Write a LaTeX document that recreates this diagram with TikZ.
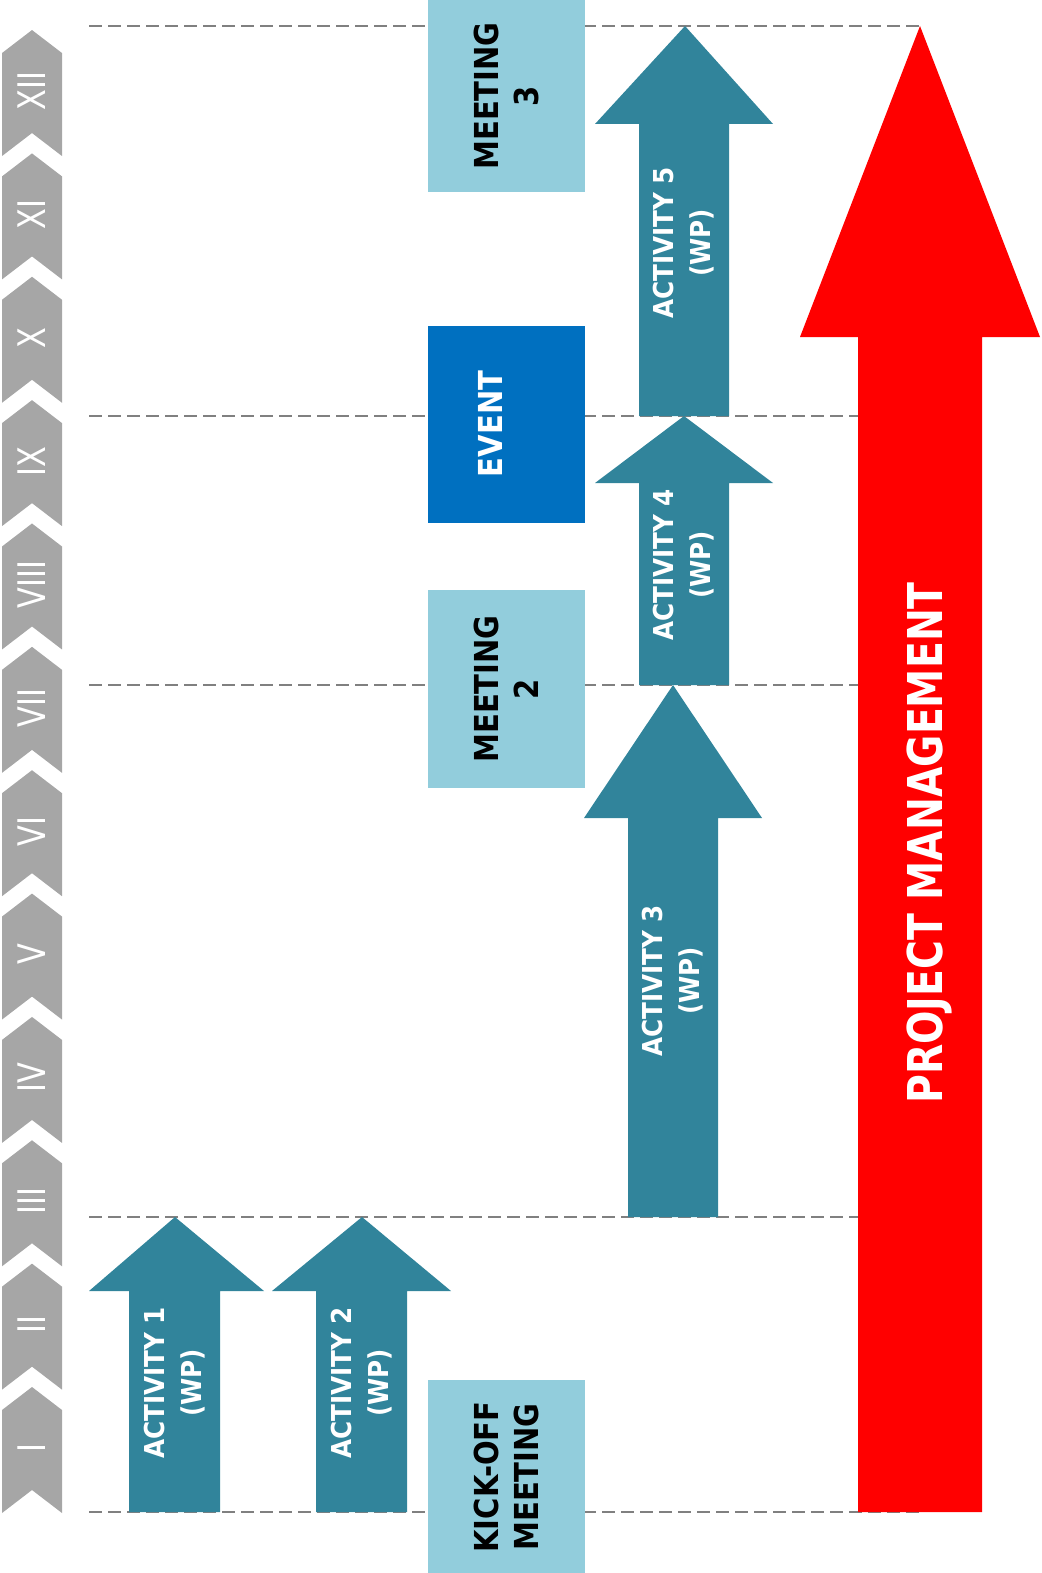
\documentclass[tikz,border=0pt]{standalone}
\usepackage{fontspec}
\setmainfont{DejaVu Sans}
\usepackage{xcolor}
\definecolor{wpteal}{HTML}{31849B}
\definecolor{meetblue}{HTML}{92CDDC}
\definecolor{eventblue}{HTML}{0070C0}
\definecolor{pmred}{HTML}{FF0000}
\definecolor{monthgray}{HTML}{A6A6A6}
\definecolor{gridgray}{HTML}{808080}
\usepackage{tikz}

\tikzset{
  gridline/.style={gridgray,line width=1pt,dash pattern=on 6.5pt off 3pt},
  wplabel/.style={white,rotate=90,xscale=0.9,align=center,inner sep=0pt,
    font=\bfseries\fontsize{13.7}{18.5}\selectfont},
  meetlabel/.style={black,rotate=90,xscale=0.88,align=center,inner sep=0pt,
    font=\bfseries\fontsize{16.5}{20}\selectfont},
  monthlabel/.style={white,rotate=90,xscale=0.8,inner sep=0pt,
    font=\fontsize{19}{19}\selectfont}
}

\begin{document}
\begin{tikzpicture}[x=0.5pt,y=-0.5pt]
        \useasboundingbox (0,0) rectangle (1041,1573);

        % months down the left side
        \foreach \num [count=\k from 0] in {I,II,III,IV,V,VI,VII,VIII,IX,X,XI,XII} {
            \pgfmathsetmacro{\ytop}{1387-123.36*\k}
            \fill[monthgray] (2,\ytop+23) -- (32,\ytop) -- (62,\ytop+23) -- (62,\ytop+126)
                -- (32,\ytop+103) -- (2,\ytop+126) -- cycle;
            \node[monthlabel] (m\k) at (32,\ytop+61) {\num};
        }

        % milestones
        \foreach \y in {26,416,685,1217,1512}
            \draw[gridline] (89,\y) -- (920,\y);

        % meetings and event
        \fill[meetblue] (428,0) rectangle (585,192);
        \fill[eventblue] (428,326) rectangle (585,523);
        \fill[meetblue] (428,590) rectangle (585,788);
        \fill[meetblue] (428,1380) rectangle (585,1573);
        \node[meetlabel] (meet3) at (506,96) {MEETING\\3};
        \node[meetlabel,white] (event) at (490,424) {EVENT};
        \node[meetlabel] (meet2) at (506,689) {MEETING\\2};
        \node[meetlabel] (kickoff) at (506,1477) {KICK-OFF\\MEETING};

        % work packages
        \fill[wpteal] (175,1217) -- (264,1291) -- (220,1291) -- (220,1512) -- (129,1512) -- (129,1291) -- (89,1291) -- cycle;
        \fill[wpteal] (362,1217) -- (451,1291) -- (407,1291) -- (407,1512) -- (316,1512) -- (316,1291) -- (272,1291) -- cycle;
        \fill[wpteal] (673,685) -- (762,818) -- (718,818) -- (718,1217) -- (628,1217) -- (628,818) -- (584,818) -- cycle;
        \fill[wpteal] (684,416) -- (773,483) -- (729,483) -- (729,685) -- (639,685) -- (639,483) -- (595,483) -- cycle;
        \fill[wpteal] (685,26) -- (773,124) -- (729,124) -- (729,416) -- (639,416) -- (639,124) -- (595,124) -- cycle;
        \node[wplabel] (act1) at (175,1383) {ACTIVITY 1\\(WP)};
        \node[wplabel] (act2) at (362,1383) {ACTIVITY 2\\(WP)};
        \node[wplabel] (act3) at (673,981) {ACTIVITY 3\\(WP)};
        \node[wplabel] (act4) at (684,565) {ACTIVITY 4\\(WP)};
        \node[wplabel] (act5) at (684,243) {ACTIVITY 5\\(WP)};

        % management runs the whole year
        \fill[pmred] (920,26) -- (1040,337) -- (982,337) -- (982,1512) -- (858,1512) -- (858,337) -- (800,337) -- cycle;
        \node[white,rotate=90,xscale=0.82,inner sep=0pt,font=\bfseries\fontsize{24}{24}\selectfont] (pm) at (929,843) {PROJECT MANAGEMENT};

    \end{tikzpicture}
\end{document}
